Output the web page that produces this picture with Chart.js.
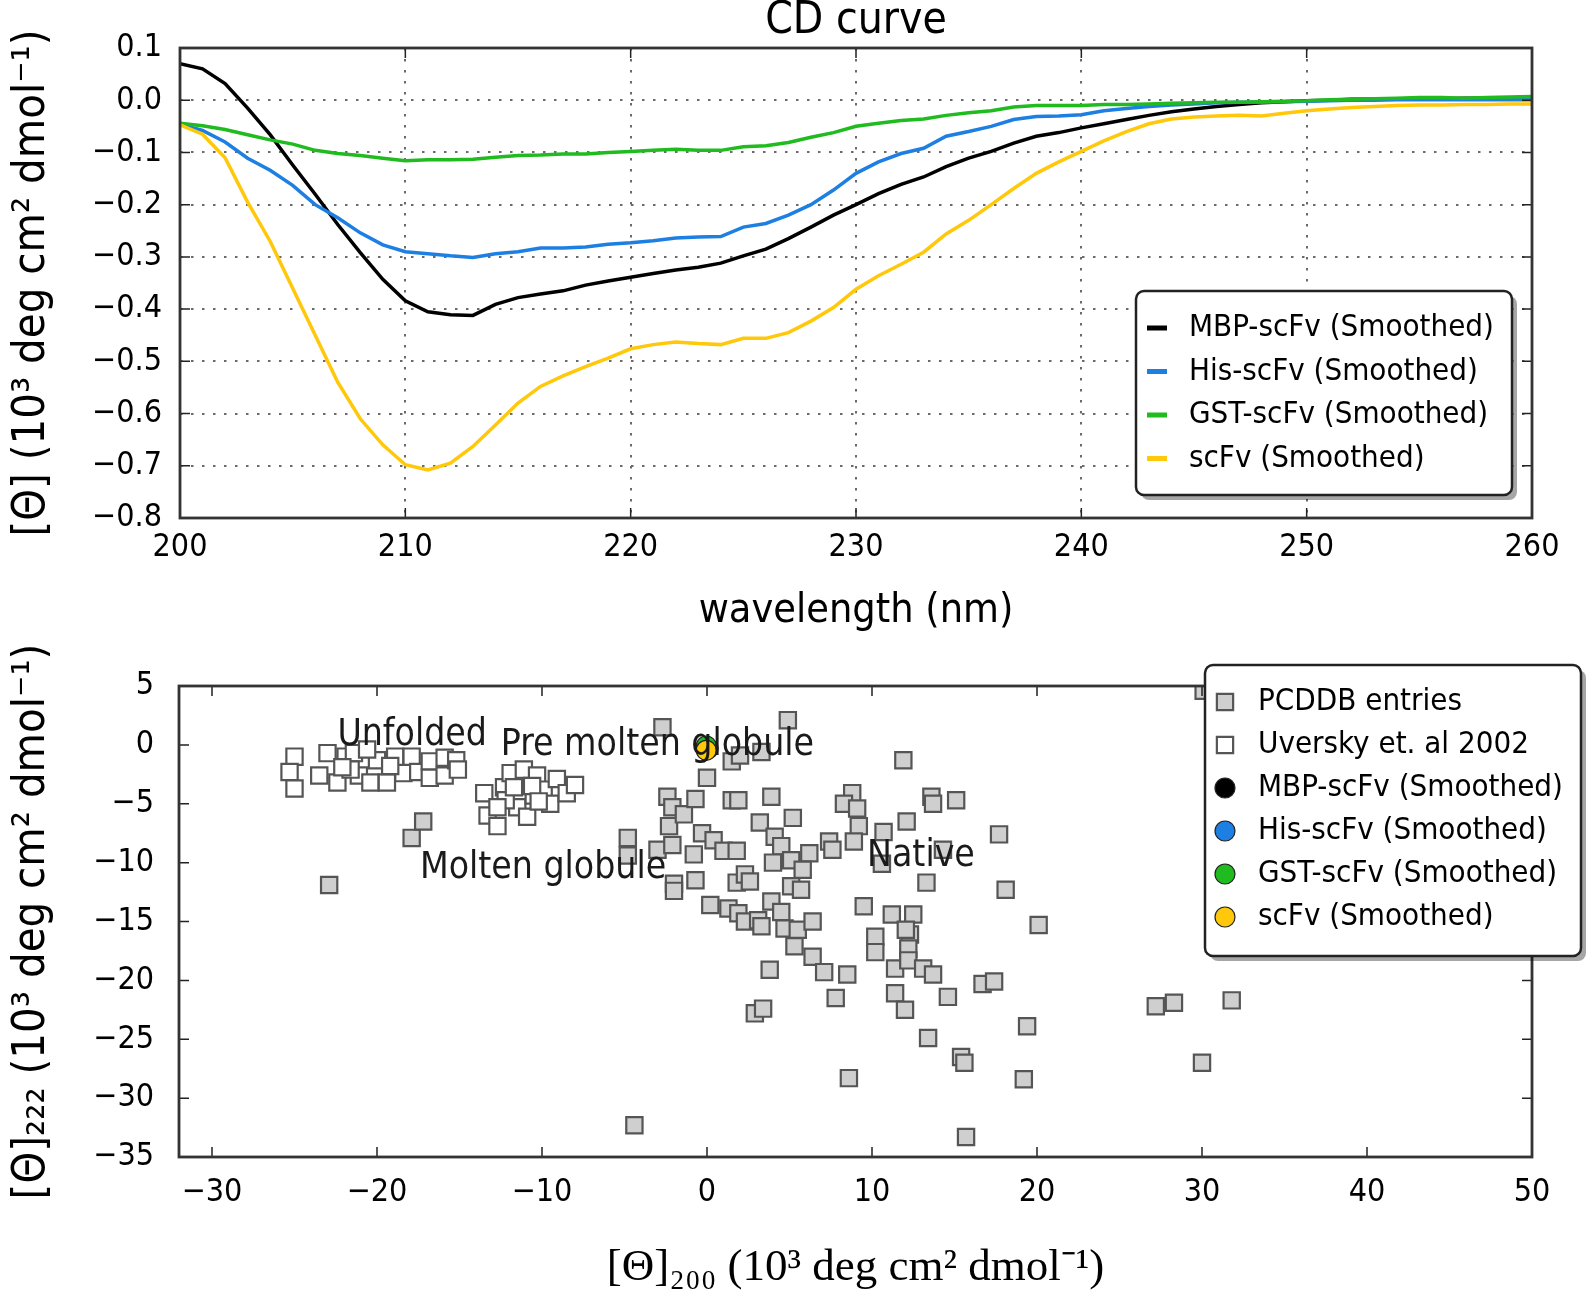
<!DOCTYPE html>
<html>
<head>
<meta charset="utf-8">
<script src="https://cdn.jsdelivr.net/npm/chart.js"></script>
<style>
  body { margin: 0; background: #fff; }
  #wrap { position: relative; width: 1591px; height: 1299px; }
  canvas { position: absolute; left: 0; }
  #cd { top: 0; }
  #scatter { top: 640px; }
</style>
</head>
<body>
<div id="wrap">
  <canvas id="cd" width="1591" height="640"></canvas>
  <canvas id="scatter" width="1591" height="659"></canvas>
</div>
<script>
// ---- CD curve (10^3 deg cm2 dmol-1), every 1 nm ----
const wavelengths = [200, 201, 202, 203, 204, 205, 206, 207, 208, 209,
  210, 211, 212, 213, 214, 215, 216, 217, 218, 219,
  220, 221, 222, 223, 224, 225, 226, 227, 228, 229,
  230, 231, 232, 233, 234, 235, 236, 237, 238, 239,
  240, 241, 242, 243, 244, 245, 246, 247, 248, 249,
  250, 251, 252, 253, 254, 255, 256, 257, 258, 259, 260];

const mbpScfv = [0.070, 0.060, 0.032, -0.015, -0.066, -0.124, -0.180, -0.238, -0.292, -0.343,
  -0.384, -0.405, -0.411, -0.412, -0.391, -0.378, -0.371, -0.365, -0.354, -0.346,
  -0.339, -0.332, -0.325, -0.320, -0.312, -0.298, -0.285, -0.265, -0.243, -0.220,
  -0.200, -0.179, -0.161, -0.147, -0.127, -0.111, -0.098, -0.082, -0.069, -0.062,
  -0.053, -0.045, -0.037, -0.029, -0.022, -0.017, -0.012, -0.008, -0.005, -0.003,
  -0.001, 0.000, 0.002, 0.002, 0.003, 0.003, 0.003, 0.004, 0.004, 0.004, 0.005];

const hisScfv = [-0.046, -0.058, -0.080, -0.111, -0.134, -0.163, -0.200, -0.225, -0.254, -0.277,
  -0.290, -0.294, -0.298, -0.301, -0.294, -0.290, -0.283, -0.283, -0.281, -0.276,
  -0.273, -0.269, -0.264, -0.262, -0.261, -0.243, -0.236, -0.220, -0.200, -0.172,
  -0.140, -0.118, -0.102, -0.092, -0.069, -0.060, -0.050, -0.037, -0.031, -0.030,
  -0.028, -0.020, -0.016, -0.012, -0.009, -0.007, -0.005, -0.004, -0.004, -0.003,
  -0.002, -0.001, 0.000, 0.000, 0.001, 0.001, 0.001, 0.001, 0.001, 0.001, 0.001];

const gstScfv = [-0.044, -0.049, -0.056, -0.066, -0.076, -0.084, -0.096, -0.102, -0.106, -0.111,
  -0.116, -0.114, -0.114, -0.113, -0.109, -0.106, -0.105, -0.103, -0.103, -0.100,
  -0.098, -0.096, -0.094, -0.096, -0.096, -0.089, -0.087, -0.081, -0.071, -0.062,
  -0.050, -0.044, -0.039, -0.036, -0.029, -0.024, -0.020, -0.013, -0.010, -0.010,
  -0.010, -0.008, -0.008, -0.007, -0.006, -0.005, -0.004, -0.004, -0.003, -0.002,
  -0.001, 0.001, 0.002, 0.003, 0.004, 0.005, 0.005, 0.004, 0.005, 0.006, 0.007];

const scfv = [-0.047, -0.065, -0.110, -0.195, -0.270, -0.360, -0.450, -0.540, -0.610, -0.660,
  -0.698, -0.708, -0.695, -0.663, -0.622, -0.580, -0.548, -0.528, -0.510, -0.494,
  -0.476, -0.468, -0.463, -0.466, -0.468, -0.456, -0.456, -0.445, -0.423, -0.397,
  -0.362, -0.336, -0.314, -0.291, -0.256, -0.230, -0.200, -0.169, -0.140, -0.118,
  -0.098, -0.078, -0.060, -0.045, -0.036, -0.032, -0.030, -0.029, -0.030, -0.025,
  -0.020, -0.017, -0.014, -0.012, -0.010, -0.009, -0.009, -0.008, -0.008, -0.007, -0.007];

const curveNames = ['MBP-scFv (Smoothed)', 'His-scFv (Smoothed)', 'GST-scFv (Smoothed)', 'scFv (Smoothed)'];
const curveColors = ['#000000', '#1e7fe2', '#1fbb1f', '#ffc80a'];
const curves = [mbpScfv, hisScfv, gstScfv, scfv];

// ---- [Θ]200 vs [Θ]222 scatter ----
const pcddbX = [-22.9, -17.9, -17.2, -4.8, -4.8, -4.4, -2.7, -2.4, -2.1, -2.3,
  -3.0, -2.1, -2.0, -2.0, -1.4, -0.7, -0.3, -0.8, -0.7, 0.0,
  0.4, 0.2, 1.0, 1.5, 2.0, 3.3, 1.5, 1.9, 1.8, 1.8,
  2.3, 2.6, 1.3, 1.9, 2.3, 3.1, 3.3, 3.9, 3.2, 3.9,
  4.5, 4.7, 4.9, 4.1, 4.5, 4.0, 5.1, 5.2, 6.2, 5.8,
  5.1, 5.7, 5.3, 5.5, 6.4, 6.4, 7.1, 3.8, 2.9, 3.4,
  7.4, 7.8, 8.5, 8.6, 8.8, 8.3, 9.1, 9.2, 8.9, 9.5,
  10.2, 10.2, 10.7, 10.6, 11.2, 11.9, 12.1, 13.6, 13.7, 15.1,
  14.3, 13.3, 17.7, 18.1, 20.1, 12.5, 12.3, 12.2, 11.4, 12.2,
  13.1, 13.7, 11.4, 12.0, 14.6, 16.7, 17.4, 19.4, 13.4, 15.4,
  15.6, 19.2, 15.7, 27.2, 28.3, 30.0, 31.8, 12.05, 7.6, 30.1];
const pcddbY = [-11.9, -7.9, -6.5, -7.9, -9.4, -32.3, 1.5, -4.4, -5.3, -6.9,
  -8.9, -8.5, -11.8, -12.4, -5.9, -4.6, -7.5, -9.3, -11.5, -2.8,
  -8.1, -13.6, -9.0, -1.4, -0.9, -0.6, -4.7, -4.7, -9.0, -11.7,
  -11.0, -11.6, -13.9, -14.3, -15.0, -14.9, -15.4, -4.4, -6.6, -13.3,
  -14.2, -15.6, 2.1, -7.8, -8.6, -10.0, -9.8, -6.2, -9.2, -10.6,
  -12.0, -12.3, -17.1, -15.7, -15.0, -18.0, -19.3, -19.1, -22.8, -22.4,
  -8.2, -21.5, -19.5, -28.3, -4.1, -5.0, -5.4, -6.9, -8.2, -13.7,
  -16.3, -17.6, -7.4, -10.1, -14.4, -1.3, -6.5, -4.4, -5.0, -4.7,
  -8.9, -11.7, -7.6, -12.3, -15.3, -14.4, -16.1, -17.3, -19.0, -18.3,
  -19.0, -19.5, -21.1, -22.5, -21.4, -20.3, -20.1, -23.9, -24.9, -26.5,
  -27.0, -28.4, -33.3, -22.2, -21.9, -27.0, -21.7, -15.7, -8.9, 4.6];

const uverskyX = [-25.0, -25.3, -25.0, -23.5, -23.0, -22.4, -21.9, -21.4, -21.1, -20.4,
  -20.0, -19.4, -18.9, -18.4, -17.9, -17.5, -16.8, -16.8, -15.9, -15.9,
  -15.2, -15.1, -20.6, -21.6, -22.1, -19.2,
  -13.5, -13.3, -12.7, -12.3, -11.9, -11.5, -11.1, -10.9, -10.5, -10.3,
  -9.9, -9.5, -9.1, -8.5, -8.0, -12.2, -11.7, -12.7, -10.6, -10.2];
const uverskyY = [-1.0, -2.3, -3.7, -2.6, -0.7, -3.2, -1.0, -0.7, -2.6, -3.2,
  -1.3, -3.2, -1.0, -2.4, -1.0, -2.3, -1.4, -2.8, -2.6, -1.1,
  -1.3, -2.1, -0.4, -2.1, -1.9, -1.8,
  -4.1, -6.0, -6.9, -3.6, -2.4, -5.3, -2.1, -6.1, -4.3, -2.6,
  -3.8, -5.0, -2.9, -4.1, -3.4, -4.7, -3.6, -5.3, -3.5, -4.8];

const scatterXTicks = [-30, -20, -10, 0, 10, 20, 30, 40, 50];

const regionLabels = ['Unfolded', 'Pre molten globule', 'Molten globule', 'Native'];
const regionX = [-22.4, -12.5, -17.4, 9.7];
const regionY = [0.0, -0.9, -11.3, -10.3];

const FONT = '"DejaVu Sans Condensed", "DejaVu Sans", sans-serif';
const minus = s => s.replace('-', '\u2212');

// matplotlib-like frame with inward ticks on all four sides
const framePlugin = {
  id: 'frame',
  afterDatasetsDraw(chart) {
    const { ctx, chartArea: a, scales } = chart;
    const len = 10;
    ctx.save();
    ctx.strokeStyle = '#222';
    ctx.lineWidth = 1.5;
    ctx.beginPath();
    scales.x.ticks.forEach(t => {
      const px = scales.x.getPixelForValue(t.value);
      ctx.moveTo(px, a.bottom); ctx.lineTo(px, a.bottom - len);
      ctx.moveTo(px, a.top); ctx.lineTo(px, a.top + len);
    });
    scales.y.ticks.forEach(t => {
      const py = scales.y.getPixelForValue(t.value);
      ctx.moveTo(a.left, py); ctx.lineTo(a.left + len, py);
      ctx.moveTo(a.right, py); ctx.lineTo(a.right - len, py);
    });
    ctx.stroke();
    ctx.lineWidth = 2.8;
    ctx.strokeStyle = '#333';
    ctx.strokeRect(a.left, a.top, a.right - a.left, a.bottom - a.top);
    ctx.restore();
  }
};

// rounded legend box with a drop shadow
const boxLegendPlugin = {
  id: 'boxLegend',
  afterDraw(chart, args, o) {
    const ctx = chart.ctx;
    ctx.save();
    ctx.beginPath();
    ctx.roundRect(o.x + 5, o.y + 5, o.w, o.h, 8);
    ctx.fillStyle = 'rgba(0,0,0,0.35)';
    ctx.fill();
    ctx.beginPath();
    ctx.roundRect(o.x, o.y, o.w, o.h, 8);
    ctx.fillStyle = '#fff';
    ctx.fill();
    ctx.lineWidth = 2.5;
    ctx.strokeStyle = '#222';
    ctx.stroke();

    ctx.font = `31px ${FONT}`;
    ctx.textBaseline = 'middle';
    chart.data.datasets.forEach((ds, i) => {
      const cy = o.rowTop + i * o.rowGap;
      if (chart.config.type === 'line') {
        ctx.strokeStyle = ds.borderColor;
        ctx.lineWidth = 5;
        ctx.beginPath();
        ctx.moveTo(o.markerX - 10, cy);
        ctx.lineTo(o.markerX + 10, cy);
        ctx.stroke();
      } else {
        ctx.fillStyle = ds.backgroundColor;
        ctx.strokeStyle = ds.borderColor;
        ctx.lineWidth = ds.borderWidth;
        Chart.helpers.drawPoint(ctx, {
          pointStyle: ds.pointStyle, radius: ds.pointRadius, borderWidth: ds.borderWidth, rotation: 0
        }, o.markerX, cy);
      }
      ctx.fillStyle = '#000';
      ctx.fillText(ds.label, o.textX, cy);
    });
    ctx.restore();
  }
};

// "Unfolded", "Native" ... labels placed at data coordinates
const regionLabelPlugin = {
  id: 'regionLabels',
  afterDatasetsDraw(chart) {
    const { ctx, scales: { x, y } } = chart;
    ctx.save();
    ctx.font = `37px ${FONT}`;
    ctx.fillStyle = '#1a1a1a';
    ctx.textBaseline = 'alphabetic';
    regionLabels.forEach((t, i) => {
      ctx.fillText(t, x.getPixelForValue(regionX[i]), y.getPixelForValue(regionY[i]));
    });
    ctx.restore();
  }
};

const tickFont = { family: FONT, size: 32 };
const gridStyle = { color: '#6a6a6a', lineWidth: 2, drawTicks: false };

// ---------- top: CD curve ----------
new Chart(document.getElementById('cd'), {
  type: 'line',
  data: {
    datasets: curves.map((c, i) => ({
      label: curveNames[i],
      data: wavelengths.map((w, j) => ({ x: w, y: c[j] })),
      borderColor: curveColors[i],
      borderWidth: 3.5,
      pointRadius: 0,
      tension: 0,
      order: curves.length - i
    }))
  },
  options: {
    responsive: false,
    animation: false,
    devicePixelRatio: 1,
    layout: { padding: { left: 0, right: 59, top: 0, bottom: 0 } },
    plugins: {
      legend: { display: false },
      tooltip: { enabled: false },
      title: {
        display: true,
        text: 'CD curve',
        fullSize: false,
        color: '#000',
        font: { family: FONT, size: 44, weight: 'normal', lineHeight: 1 },
        padding: { top: 0, bottom: 4 }
      },
      boxLegend: { x: 1136, y: 291, w: 376, h: 204, rowTop: 328, rowGap: 43.5, markerX: 1157, textX: 1189 }
    },
    scales: {
      x: {
        type: 'linear',
        min: 200,
        max: 260,
        afterFit: s => { s.height = 122; },
        ticks: { stepSize: 10, font: tickFont, color: '#000', padding: 10 },
        grid: gridStyle,
        border: { display: false, dash: [2.5, 8.5] },
        title: { display: true, text: 'wavelength (nm)', color: '#000', font: { family: FONT, size: 41 }, padding: { bottom: 4 } }
      },
      y: {
        min: -0.8,
        max: 0.1,
        afterFit: s => { s.width = 180; },
        ticks: {
          stepSize: 0.1, font: tickFont, color: '#000', padding: 18,
          callback: v => Math.abs(v) < 1e-9 ? '0.0' : minus(v.toFixed(1))
        },
        grid: gridStyle,
        border: { display: false, dash: [2.5, 8.5] },
        title: { display: true, text: '[\u0398] (10\u00b3 deg cm\u00b2 dmol\u207b\u00b9)', color: '#000', font: { family: FONT, size: 45 }, padding: { top: 5 } }
      }
    }
  },
  plugins: [framePlugin, boxLegendPlugin]
});

// ---------- bottom: [Θ]200 vs [Θ]222 ----------
const square = (label, xs, ys, fill, order) => ({
  label, order,
  data: xs.map((x, i) => ({ x, y: ys[i] })),
  pointStyle: 'rect', pointRadius: 11.5, borderWidth: 2.2,
  backgroundColor: fill, borderColor: '#555'
});
const dot = i => ({
  label: curveNames[i],
  order: curves.length - i,
  data: [{ x: curves[i][wavelengths.indexOf(200)], y: curves[i][wavelengths.indexOf(222)] }],
  pointStyle: 'circle', pointRadius: 10, borderWidth: 1.2,
  backgroundColor: curveColors[i], borderColor: '#222'
});

new Chart(document.getElementById('scatter'), {
  type: 'scatter',
  data: {
    datasets: [
      square('PCDDB entries', pcddbX, pcddbY, '#cfcfcf', 6),
      square('Uversky et. al 2002', uverskyX, uverskyY, '#ffffff', 5),
      dot(0), dot(1), dot(2), dot(3)
    ]
  },
  options: {
    responsive: false,
    animation: false,
    devicePixelRatio: 1,
    layout: { padding: { left: 0, right: 59, top: 46, bottom: 0 } },
    plugins: {
      legend: { display: false },
      tooltip: { enabled: false },
      boxLegend: { x: 1205, y: 25, w: 376, h: 291, rowTop: 62, rowGap: 43, markerX: 1225, textX: 1258 }
    },
    scales: {
      x: {
        type: 'linear',
        min: -32,
        max: 50,
        afterFit: s => { s.height = 142; },
        afterBuildTicks: s => { s.ticks = scatterXTicks.map(v => ({ value: v })); },
        ticks: { font: tickFont, color: '#000', padding: 8, callback: v => minus(String(v)) },
        grid: { display: false },
        border: { display: false },
        title: {
          display: true,
          text: '[\u0398]\u2082\u2080\u2080 (10\u00b3 deg cm\u00b2 dmol\u207b\u00b9)',
          color: '#000',
          font: { family: '"Liberation Serif", serif', size: 45 },
          padding: { bottom: 4 }
        }
      },
      y: {
        min: -35,
        max: 5,
        afterFit: s => { s.width = 179; },
        ticks: { stepSize: 5, font: tickFont, color: '#000', padding: 17, callback: v => minus(String(v)) },
        grid: { display: false },
        border: { display: false },
        title: {
          display: true,
          text: '[\u0398]\u2082\u2082\u2082 (10\u00b3 deg cm\u00b2 dmol\u207b\u00b9)',
          color: '#000',
          font: { family: FONT, size: 45 },
          padding: { top: 5 }
        }
      }
    }
  },
  plugins: [regionLabelPlugin, framePlugin, boxLegendPlugin]
});
</script>
</body>
</html>
